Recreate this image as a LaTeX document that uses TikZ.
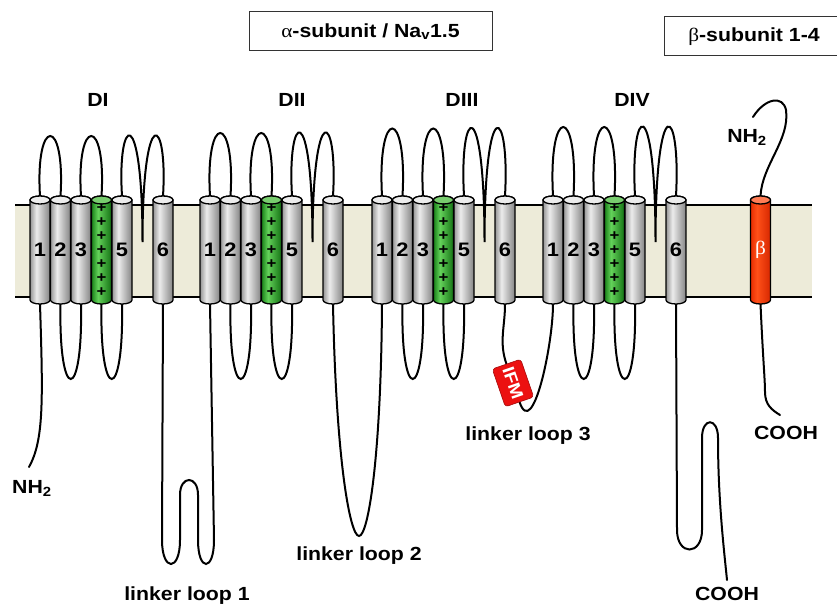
\documentclass[tikz,border=0pt]{standalone}
\usepackage{fontspec}
\setmainfont{Liberation Sans}[FakeStretch=1.12]
\newfontfamily\grkfont{Liberation Serif}[FakeStretch=1.12]
\usetikzlibrary{positioning}

\definecolor{membranebg}{RGB}{237,235,217}
\definecolor{tgdark}{RGB}{150,150,150}
\definecolor{tglight}{RGB}{236,236,236}
\definecolor{tgright}{RGB}{132,132,132}
\definecolor{tgcap}{RGB}{236,236,236}
\definecolor{sfdark}{RGB}{25,130,25}
\definecolor{sflight}{RGB}{100,210,90}
\definecolor{sfright}{RGB}{20,115,20}
\definecolor{sfcap}{RGB}{120,205,110}
\definecolor{bedark}{RGB}{230,45,0}
\definecolor{belight}{RGB}{255,80,25}
\definecolor{beright}{RGB}{215,40,0}
\definecolor{becap}{RGB}{255,125,85}
\definecolor{ifmred}{RGB}{236,16,16}

\pgfdeclarehorizontalshading{tubegray}{100bp}{color(0bp)=(tgdark); color(25bp)=(tgdark); color(41bp)=(tglight); color(75bp)=(tgright); color(100bp)=(tgright)}
\pgfdeclarehorizontalshading{tubegreen}{100bp}{color(0bp)=(sfdark); color(25bp)=(sfdark); color(41bp)=(sflight); color(75bp)=(sfright); color(100bp)=(sfright)}
\pgfdeclarehorizontalshading{tubered}{100bp}{color(0bp)=(bedark); color(25bp)=(bedark); color(41bp)=(belight); color(75bp)=(beright); color(100bp)=(beright)}

\pgfdeclarelayer{membrane}
\pgfdeclarelayer{strands}
\pgfdeclarelayer{tubes}
\pgfsetlayers{membrane,strands,tubes,main}

% body and cap of one helix node
\newcommand\tube[3]{%
  \shade[shading=#2, draw, line width=1.3pt]
    ([yshift=-4pt]#1.north west) -- ([yshift=4pt]#1.south west)
    arc[start angle=180, end angle=360, x radius=10pt, y radius=4pt]
    -- ([yshift=-4pt]#1.north east)
    arc[start angle=0, end angle=180, x radius=10pt, y radius=4pt] -- cycle;
  \draw[fill=#3, line width=1.3pt] ([yshift=-4pt]#1.north) ellipse[x radius=10pt, y radius=4pt];}

\begin{document}
\begin{tikzpicture}[x=1pt, y=-1pt,
  helix/.style={inner sep=0pt, outer sep=0pt, minimum width=20pt, minimum height=108pt, font=\fontsize{19.5}{19.5}\selectfont\bfseries},
  sensor/.style={helix, align=center, font=\fontsize{15}{14}\selectfont\bfseries},
  strand/.style={line width=2pt, line cap=round},
  tag/.style={draw=black!80, line width=1pt, minimum height=39pt},
  lbl/.style={font=\fontsize{19}{22}\selectfont\bfseries, inner sep=0pt},
  ifmbox/.style={fill=ifmred, draw=ifmred!70!black, line width=0.6pt, rounded corners=3pt, rotate=-71, minimum width=40pt, minimum height=30pt, inner sep=1pt, text=white, font=\fontsize{17}{17}\selectfont\bfseries}]
\useasboundingbox (0,0) rectangle (837,607);

% membrane
\begin{pgfonlayer}{membrane}
  \fill[membranebg] (15,205) rectangle (812,297);
  \draw[line width=1.3pt] (15,205) -- (812,205) (15,297) -- (812,297);
\end{pgfonlayer}

% titles
\node[tag, lbl, minimum width=243pt] (alpha) at (370.5,31.5) {{\grkfont\mdseries α}-subunit / Na\textsubscript{v}1.5};
\node[tag, lbl, minimum width=180pt] (beta) at (754,36.5) {{\grkfont\mdseries β}-subunit 1-4};

% four domains
\foreach \dm/\x/\lab/\lx in {1/40/DI/98, 2/210/DII/292, 3/382/DIII/462, 4/553/DIV/632}{
  \foreach \s/\dx in {1/0, 2/20.5, 3/41, 5/82, 6/123}
    \node[helix] (h\dm\s) at (\x+\dx,250) {\s};
  \node[sensor] (h\dm4) at (\x+61.5,250) {+\\+\\+\\+\\+\\+\\+};
  \coordinate (p\dm) at (\x+102.5,242);
  \node[lbl] (d\dm) at (\lx,100) {\lab};
}
\node[helix, text=white, font=\fontsize{19}{19}\selectfont\grkfont] (hb) at (760.5,250) {β};
\node[ifmbox] (ifm) at (513,383) {IFM};

\coordinate (nt) at (29,467);
\coordinate (ct) at (727,580);
\coordinate (bn) at (753,117);
\coordinate (bc) at (780,415);

\begin{pgfonlayer}{tubes}
  \foreach \dm in {1,...,4}{
    \foreach \s in {1,2,3,5,6} \tube{h\dm\s}{tubegray}{tgcap};
    \tube{h\dm4}{tubegreen}{sfcap};
  }
  \tube{hb}{tubered}{becap};
\end{pgfonlayer}

\begin{pgfonlayer}{strands}
  \foreach \dm/\lift in {1/80, 2/84, 3/90, 4/92}{
    \draw[strand] (h\dm1.north) .. controls +(-5,-\lift) and +(5,-\lift) .. (h\dm2.north);
    \draw[strand] (h\dm3.north) .. controls +(-5,-\lift) and +(5,-\lift) .. (h\dm4.north);
    \draw[strand] (h\dm5.north) .. controls +(-5,-\lift) and +(0,-\lift-62) .. (p\dm)
                               .. controls +(0,-\lift-62) and +(5,-\lift) .. (h\dm6.north);
    \draw[strand] (h\dm2.south) .. controls +(-2,100) and +(2,100) .. (h\dm3.south);
    \draw[strand] (h\dm4.south) .. controls +(-2,100) and +(2,100) .. (h\dm5.south);
  }
  % linkers and ends
  \draw[strand] (h11.south) .. controls (43,400) and (44,440) .. (nt);
  \draw[strand] (h16.south) -- (162,540) .. controls (162,572) and (180,572) .. (180,540)
     -- (180,495) .. controls (180,475) and (198,475) .. (198,495)
     -- (198,540) .. controls (198,572) and (214,572) .. (214,540) -- (h21.south);
  \draw[strand] (h26.south) .. controls (336,460) and (350,536) .. (359,536)
     .. controls (368,536) and (381,460) .. (h31.south);
  \draw[strand] (h36.south) to[out=-90, in=109] (ifm.west);
  \draw[strand] (ifm.east) to[out=-71, in=-90] (h41.south);
  \draw[strand] (h46.south) -- (677,530) .. controls (677,556) and (702,556) .. (702,530)
     -- (702,438) .. controls (702,417) and (718,417) .. (718,438)
     .. controls (718,500) and (724,550) .. (ct);
  \draw[strand] (hb.north) .. controls (762,165) and (790,140) .. (786,110)
     .. controls (783,95) and (765,98) .. (bn);
  \draw[strand] (hb.south) .. controls (763,360) and (765,380) .. (765,392)
     .. controls (765,405) and (772,410) .. (bc);
\end{pgfonlayer}

% labels
\node[lbl, below=13pt of nt, xshift=3pt] (ntl) {NH\textsubscript{2}};
\node[lbl, below=7pt of ct] (ctl) {COOH};
\node[lbl, below=12pt of bn, xshift=-6pt] (bnl) {NH\textsubscript{2}};
\node[lbl, below=11pt of bc, xshift=6pt] (bcl) {COOH};
\node[lbl] (ll1) at (187,596) {linker loop 1};
\node[lbl] (ll2) at (359,556) {linker loop 2};
\node[lbl] (ll3) at (528,436) {linker loop 3};

\end{tikzpicture}
\end{document}
